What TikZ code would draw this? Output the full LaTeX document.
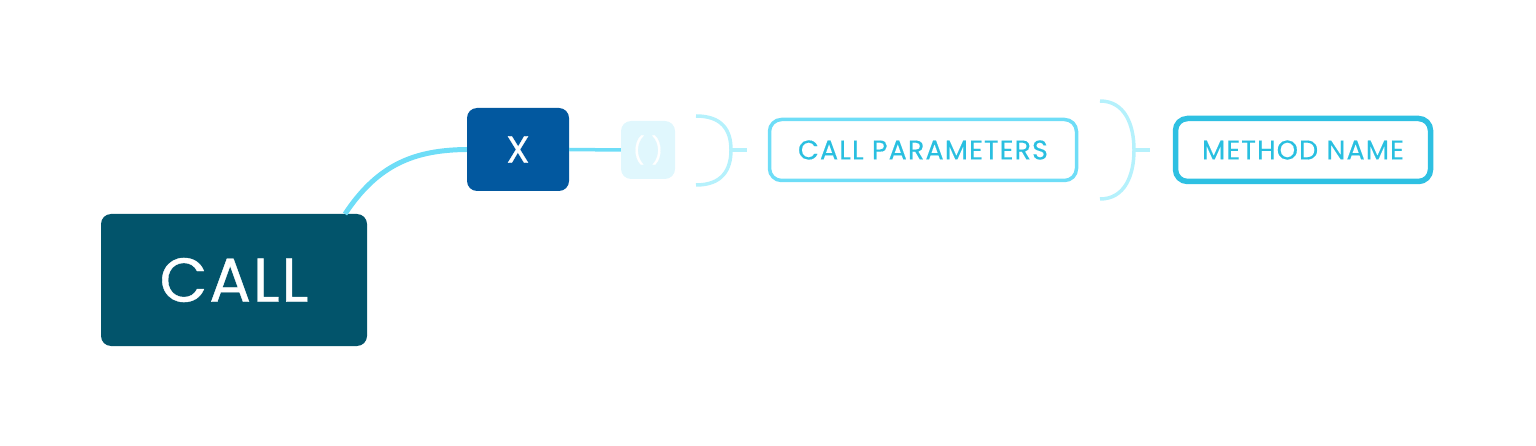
\documentclass[tikz,border=0pt]{standalone}
\usepackage{fontspec}
\setmainfont{Poppins}
\definecolor{calldark}{HTML}{02546B}
\definecolor{xblue}{HTML}{02589F}
\definecolor{linecyan}{HTML}{6EDDF7}
\definecolor{paleblue}{HTML}{E0F7FD}
\definecolor{bracketcyan}{HTML}{B5F1FC}
\definecolor{textcyan}{HTML}{29BFE0}
\definecolor{mnborder}{HTML}{2EC0E2}
\begin{document}
\begin{tikzpicture}[x=1pt,y=-1pt,
  box/.style={rounded corners=10pt,inner sep=0pt,align=center},
  callbox/.style={box,fill=calldark,text=white,minimum width=266pt,minimum height=132pt,font=\fontsize{62}{64}\selectfont\addfontfeatures{FakeBold=0.6,LetterSpace=3}},
  xbox/.style={box,fill=xblue,text=white,minimum width=102pt,minimum height=83pt,font=\fontsize{38}{40}\selectfont\addfontfeatures{FakeBold=0.6}},
  parbox/.style={box,fill=paleblue,text=white,minimum width=54pt,minimum height=58pt,font=\fontsize{26}{28}\selectfont\addfontfeatures{FakeBold=0.6}},
  cpbox/.style={box,draw=linecyan,line width=3.5pt,text=textcyan,minimum width=307pt,minimum height=61pt,rounded corners=12pt,font=\fontsize{27}{29}\selectfont\addfontfeatures{LetterSpace=4,FakeBold=0.4}},
  mnbox/.style={box,draw=mnborder,line width=5.5pt,text=textcyan,minimum width=255pt,minimum height=63pt,rounded corners=12pt,font=\fontsize{27}{29}\selectfont\addfontfeatures{LetterSpace=4,FakeBold=0.4}},
  conn/.style={draw=linecyan,line width=5pt},
  brk/.style={draw=bracketcyan,line width=3.5pt},
]
\useasboundingbox (0,0) rectangle (1536,446);
\node[callbox] (call) at (234,280) {CALL};
\node[xbox] (x) at (518,149.5) {X};
\node[parbox] (par) at (648,150) {( )};
\node[cpbox] (cp) at (923,150) {CALL PARAMETERS};
\node[mnbox] (mn) at (1303,150) {METHOD NAME};
\coordinate (cstart) at (345,214);
\draw[conn] (cstart) .. controls (378,164) and (415,150) .. (x.west);
\draw[conn,line width=3.5pt] (x.east) -- (par.west);
% brackets
\coordinate (b1t) at (696,116);
\coordinate (b1m) at (731,150);
\coordinate (b1b) at (696,185);
\coordinate (b1e) at (747,150);
\draw[brk] (b1t) .. controls (722,116) and (731,130) .. (b1m) .. controls (731,170) and (722,185) .. (b1b);
\draw[brk] (b1m) -- (b1e);
\coordinate (b2t) at (1100,101);
\coordinate (b2m) at (1134,150);
\coordinate (b2b) at (1100,199);
\coordinate (b2e) at (1150,150);
\draw[brk] (b2t) .. controls (1125,101) and (1134,125) .. (b2m) .. controls (1134,175) and (1125,199) .. (b2b);
\draw[brk] (b2m) -- (b2e);
\end{tikzpicture}
\end{document}
